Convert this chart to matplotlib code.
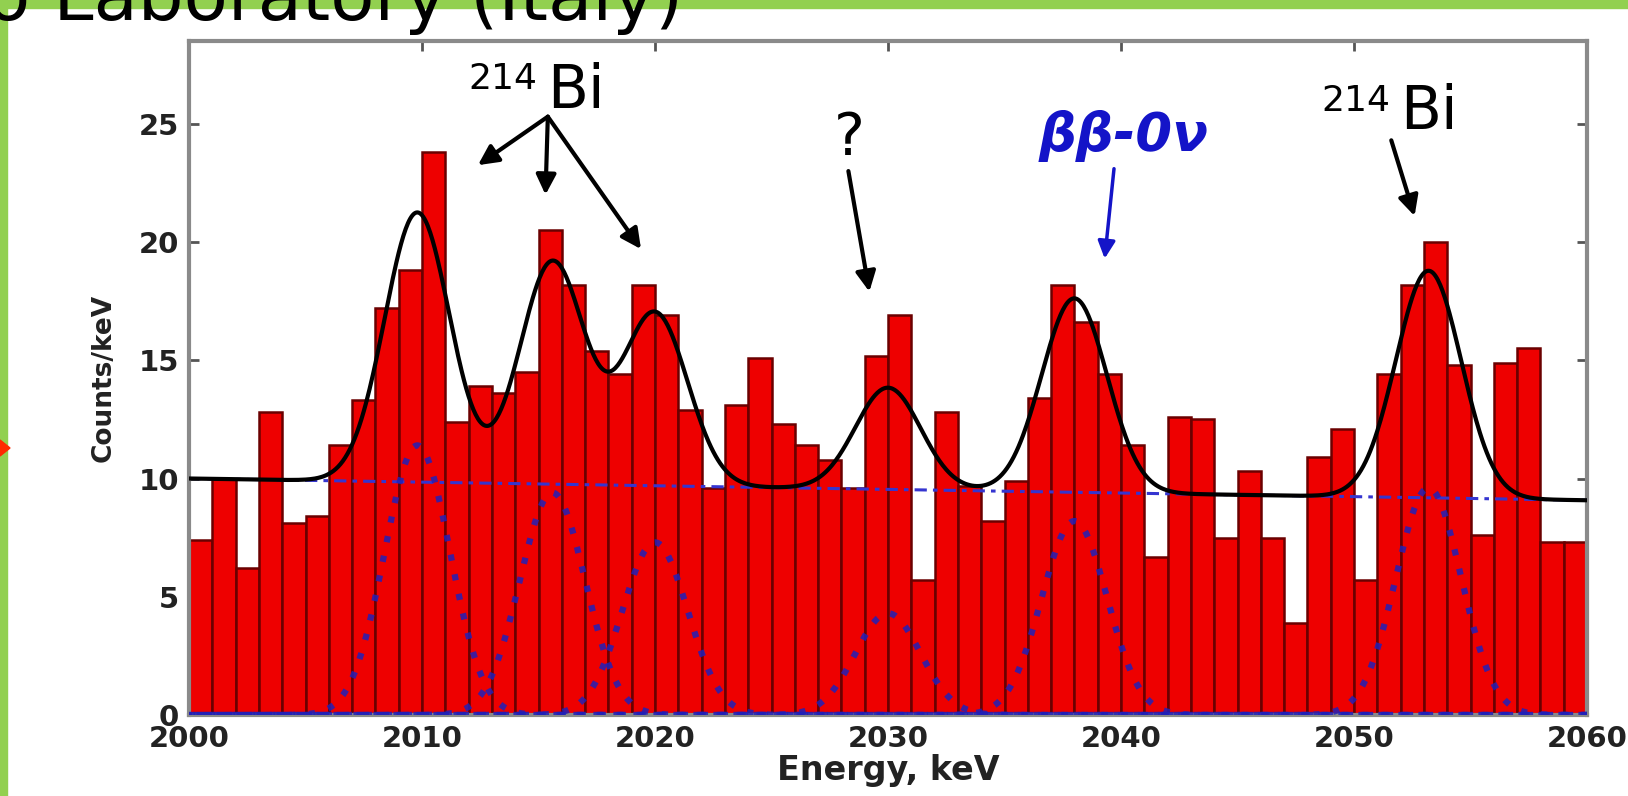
import numpy as np
import matplotlib
matplotlib.use("Agg")
import matplotlib.pyplot as plt
from matplotlib.patches import Rectangle, Polygon

# Datos
# ========================================
bin_lo = np.arange(2000, 2060)  # borde izquierdo de cada canal (1 keV)
counts = [7.4, 10.0, 6.2, 12.8, 8.1, 8.4, 11.4, 13.3, 17.2, 18.8,
          23.8, 12.4, 13.9, 13.6, 14.5, 20.5, 18.2, 15.4, 14.4, 18.2,
          16.9, 12.9, 9.6, 13.1, 15.1, 12.3, 11.4, 10.8, 9.6, 15.2,
          16.9, 5.7, 12.8, 9.7, 8.2, 9.9, 13.4, 18.2, 16.6, 14.4,
          11.4, 6.7, 12.6, 12.5, 7.5, 10.3, 7.5, 3.9, 10.9, 12.1,
          5.7, 14.4, 18.2, 20.0, 14.8, 7.6, 14.9, 15.5, 7.3, 7.3]

# Parametros del ajuste
bg_start, bg_end = 10.0, 9.08
peak_centers = [2009.8, 2015.6, 2020.0, 2030.0, 2038.0, 2053.2]
peak_heights = [11.4, 9.4, 7.3, 4.3, 8.2, 9.6]
peak_sigma = 1.4

x_ticks = [2000, 2010, 2020, 2030, 2040, 2050, 2060]
y_ticks = [0, 5, 10, 15, 20, 25]

# Figura
# ========================================
W, H = 1628, 796
fig = plt.figure(figsize=(W / 100, H / 100), dpi=100)
fig.patch.set_facecolor("white")

ax = fig.add_axes([189 / W, 81 / H, 1398 / W, 674 / H])

ax.bar(bin_lo, counts, width=1.0, align="edge", color="#ee0000",
       edgecolor="#6a0000", linewidth=1.8, zorder=2)

e = np.linspace(2000, 2060, 1201)
bg = bg_start + (bg_end - bg_start) * (e - 2000) / 60.0
ax.plot(e, bg, color="#3535d0", lw=2.2, ls=(0, (4, 2, 1.5, 2)), zorder=3)

total = bg.copy()
for i, (c, h) in enumerate(zip(peak_centers, peak_heights)):
    g = h * np.exp(-(e - c) ** 2 / (2 * peak_sigma ** 2))
    total += g
    ax.plot(e, g, color="#2020b8", lw=4.5, alpha=0.85,
            ls=(i * 0.5, (1, 2.2)), zorder=3)

ax.plot(e, total, color="black", lw=3, zorder=4)

ax.set_xlim(2000, 2060)
ax.set_ylim(0, 28.5)
ax.set_xticks(x_ticks)
ax.set_yticks(y_ticks)
ax.tick_params(direction="in", length=7, width=2, color="#555555",
               top=True, right=True, labelsize=21, pad=7)
for lab in ax.get_xticklabels() + ax.get_yticklabels():
    lab.set_fontweight("bold")
    lab.set_color("#222222")
for sp in ax.spines.values():
    sp.set_color("#8a8a8a")
    sp.set_linewidth(3)

ax.set_xlabel("Energy, keV", fontsize=24, fontweight="bold", color="#222222")
ax.set_ylabel("Counts/keV", fontsize=19, fontweight="bold", color="#222222")
ax.xaxis.set_label_coords(0.5, -0.058)
ax.yaxis.set_label_coords(-0.052, 0.5)

# Anotaciones
# ========================================
ax.text(2014.94, 26.45, "214", fontsize=26, ha="right", va="baseline", zorder=6)
ax.text(2015.36, 25.65, "Bi", fontsize=43, ha="left", va="baseline", zorder=6)
for tx, ty in [(2012.4, 23.25), (2015.3, 22.0), (2019.4, 19.7)]:
    ax.annotate("", xy=(tx, ty), xytext=(2015.4, 25.3),
                arrowprops=dict(arrowstyle="-|>", lw=3, color="black",
                                mutation_scale=30, shrinkA=0, shrinkB=0),
                zorder=6)

ax.text(2028.33, 23.67, "?", fontsize=42, ha="center", va="baseline", zorder=6)
ax.annotate("", xy=(2029.2, 17.9), xytext=(2028.3, 23.0),
            arrowprops=dict(arrowstyle="-|>", lw=3, color="black",
                            mutation_scale=30, shrinkA=0, shrinkB=0), zorder=6)

ax.text(2040.13, 23.84, "ββ-0ν", fontsize=38, fontweight="bold",
        fontstyle="italic", color="#1414c8", ha="center", va="baseline",
        zorder=6)
ax.annotate("", xy=(2039.3, 19.3), xytext=(2039.7, 23.1),
            arrowprops=dict(arrowstyle="-|>", lw=2.5, color="#1414c8",
                            mutation_scale=26, shrinkA=0, shrinkB=0), zorder=6)

ax.text(2051.55, 25.53, "214", fontsize=26, ha="right", va="baseline", zorder=6)
ax.text(2051.98, 24.77, "Bi", fontsize=43, ha="left", va="baseline", zorder=6)
ax.annotate("", xy=(2052.6, 21.1), xytext=(2051.6, 24.3),
            arrowprops=dict(arrowstyle="-|>", lw=3, color="black",
                            mutation_scale=30, shrinkA=0, shrinkB=0), zorder=6)

# Marco verde de la diapositiva y titulo cortado
# ========================================
green = "#92d050"
fig.patches.append(Rectangle((0, 0), 7 / W, 1, transform=fig.transFigure,
                             color=green, zorder=0))
fig.patches.append(Rectangle((0, 1 - 8 / H), 1, 8 / H, transform=fig.transFigure,
                             color=green, zorder=0))
fig.patches.append(Polygon([(0, 1 - 440 / H), (10 / W, 1 - 448 / H), (0, 1 - 456 / H)],
                           closed=True, transform=fig.transFigure,
                           color="#ff2a00", zorder=1))
fig.text(-14 / W, 1 - 20 / H, "o Laboratory (Italy)", fontsize=52,
         ha="left", va="baseline", color="black")

fig.savefig("out.png", dpi=100)
